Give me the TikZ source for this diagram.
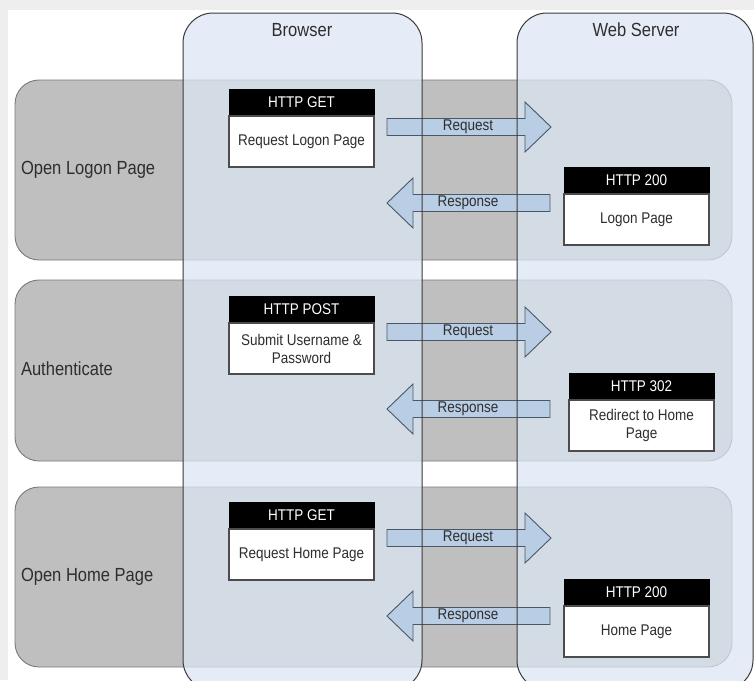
\documentclass[tikz,border=0pt]{standalone}
\usepackage{fontspec}
\setmainfont{Liberation Sans}[FakeStretch=0.87]
\definecolor{bandgray}{HTML}{BFBFBF}
\definecolor{bandline}{HTML}{7A7A7A}
\definecolor{lanecol}{HTML}{DCE6F4}
\definecolor{laneedge}{HTML}{3A3A3A}
\definecolor{arrowcol}{HTML}{B9CDE4}
\definecolor{arrowedge}{HTML}{4A5866}
\definecolor{txt}{HTML}{2E2E2E}
\definecolor{frame}{HTML}{EEEEEE}

% block arrow pointing right, from the browser to the server
\newcommand{\toserver}[3]{%
  \path[blockarrow] (387,{#2-8.5}) -- (525,{#2-8.5}) -- (525,{#2-25}) -- (551,#2)
     -- (525,{#2+25}) -- (525,{#2+8.5}) -- (387,{#2+8.5}) -- cycle;
  \node[arrowtext] (#1) at (468,#2) {#3};}
% block arrow pointing left, from the server back to the browser
\newcommand{\tobrowser}[3]{%
  \path[blockarrow] (550,{#2-8.5}) -- (413,{#2-8.5}) -- (413,{#2-25}) -- (387,#2)
     -- (413,{#2+25}) -- (413,{#2+8.5}) -- (550,{#2+8.5}) -- cycle;
  \node[arrowtext] (#1) at (468,#2) {#3};}

\begin{document}
\begin{tikzpicture}[x=1pt,y=-1pt,
  every node/.style={inner sep=0pt, outer sep=0pt},
  band/.style={draw=bandline, fill=bandgray, line width=0.9pt,
    rounded corners=24pt, minimum width=717pt, anchor=north west},
  lanefill/.style={fill=lanecol, fill opacity=0.72, rounded corners=30pt,
    anchor=north west, minimum height=677pt},
  laneline/.style={draw=laneedge, line width=1pt, rounded corners=30pt},
  lanetitle/.style={text=txt, font=\fontsize{19}{22}\selectfont},
  rowtitle/.style={text=txt, anchor=west, font=\fontsize{19}{22}\selectfont},
  hdr/.style={fill=black, draw=black, text=white, line width=0.8pt,
    minimum width=145pt, minimum height=27pt, anchor=north west,
    font=\fontsize{15.5}{17}\selectfont},
  msgbody/.style={fill=white, draw=black!70, line width=1.1pt,
    minimum width=145pt, minimum height=51pt, anchor=north, align=center,
    text=txt, font=\fontsize{15.5}{17}\selectfont},
  blockarrow/.style={fill=arrowcol, draw=arrowedge, line width=0.9pt},
  arrowtext/.style={text=txt, font=\fontsize{15.5}{17}\selectfont}]

\useasboundingbox (0,0) rectangle (754,680);
\clip (0,0) rectangle (754,680);

% page frame
\fill[frame] (0,0) rectangle (754,680);
\fill[white] (8,10) rectangle (754,680);

% the three stages
\node[band, minimum height=180pt] (row1) at (15,80) {};
\node[band, minimum height=181pt] (row2) at (15,280) {};
\node[band, minimum height=180pt] (row3) at (15,487) {};

% the two swim lanes
\node[lanefill, minimum width=239pt] (browser) at (183,13) {};
\node[lanefill, minimum width=236pt] (server) at (517,13) {};

\node[lanetitle] (browsertitle) at (302,30) {Browser};
\node[lanetitle] (servertitle) at (636,30) {Web Server};

\node[rowtitle] (row1title) at (21,170) {Open Logon Page};
\node[rowtitle] (row2title) at (21,369) {Authenticate};
\node[rowtitle] (row3title) at (21,577) {Open Home Page};

% requests and responses
\toserver{req1}{127}{Request}
\tobrowser{resp1}{203}{Response}
\toserver{req2}{332}{Request}
\tobrowser{resp2}{409}{Response}
\toserver{req3}{538}{Request}
\tobrowser{resp3}{616}{Response}

% lane outlines over the arrows
\draw[laneline] (browser.north west) rectangle (browser.south east);
\draw[laneline] (server.north west) rectangle (server.south east);

% messages
\node[hdr] (get1h) at (229,89) {HTTP GET};
\node[msgbody] (get1b) at (get1h.south) {Request Logon Page};
\node[hdr] (ok1h) at (564,167) {HTTP 200};
\node[msgbody] (ok1b) at (ok1h.south) {Logon Page};

\node[hdr] (posth) at (229,296) {HTTP POST};
\node[msgbody] (postb) at (posth.south) {Submit Username \&\\[1pt]Password};
\node[hdr] (redirh) at (569,373) {HTTP 302};
\node[msgbody] (redirb) at (redirh.south) {Redirect to Home\\[1pt]Page};

\node[hdr] (get3h) at (229,502) {HTTP GET};
\node[msgbody] (get3b) at (get3h.south) {Request Home Page};
\node[hdr] (ok3h) at (564,579) {HTTP 200};
\node[msgbody] (ok3b) at (ok3h.south) {Home Page};
\end{tikzpicture}
\end{document}
